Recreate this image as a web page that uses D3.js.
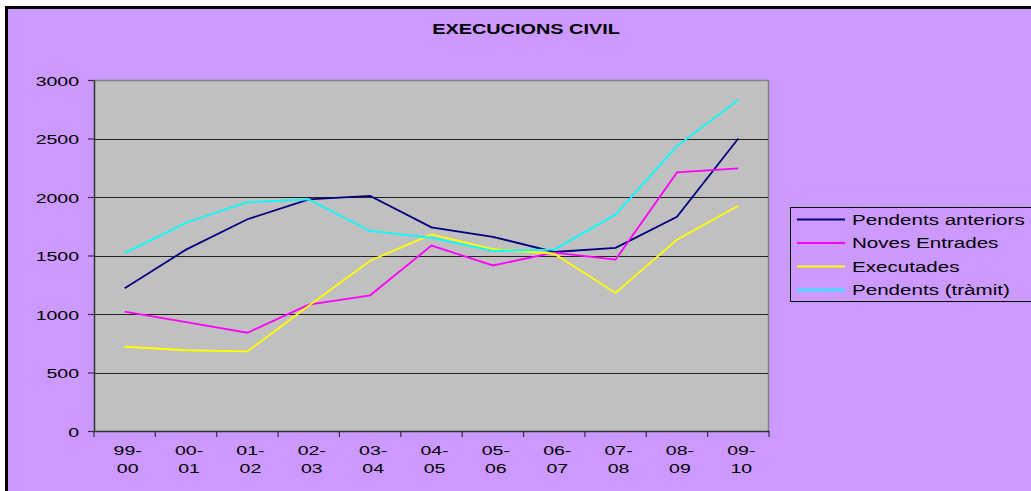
<!DOCTYPE html>
<html>
<head>
<meta charset="utf-8">
<script src="https://cdn.jsdelivr.net/npm/d3@7"></script>
<style>
html,body{margin:0;padding:0;background:#fff;}
svg{display:block;}
text{font-family:"Liberation Sans",Arial,sans-serif;fill:#000;}
</style>
</head>
<body>
<svg id="chart" width="1031" height="491"></svg>
<script>
const title = "EXECUCIONS CIVIL";
const categories = ["99-00","00-01","01-02","02-03","03-04","04-05","05-06","06-07","07-08","08-09","09-10"];
const seriesNames = ["Pendents anteriors","Noves Entrades","Executades","Pendents (tràmit)"];
const seriesColors = ["#000080","#FF00FF","#FFFF00","#00FFFF"];
const pendentsAnteriors = [1220,1550,1810,1980,2010,1740,1660,1530,1565,1830,2500];
const novesEntrades     = [1020,930,840,1080,1160,1585,1415,1525,1465,2210,2245];
const executades        = [720,690,680,1070,1455,1680,1555,1515,1180,1635,1925];
const pendentsTramit    = [1520,1780,1955,1980,1710,1650,1540,1550,1850,2435,2830];
const yTicks = [0,500,1000,1500,2000,2500,3000];

const seriesValues = [pendentsAnteriors, novesEntrades, executades, pendentsTramit];

const svg = d3.select("#chart");
const W = 1031, H = 491;
const plot = {left:94, right:769, top:80, bottom:431};
const SX = 1.5; // horizontal text stretch

// background + frame
svg.append("rect").attr("x",6.5).attr("y",7.5).attr("width",W+20).attr("height",H+20)
  .attr("fill","#CC99FF").attr("stroke","#000").attr("stroke-width",3);

// title
svg.append("text").attr("transform",`translate(526,34) scale(1.42,1)`)
  .attr("text-anchor","middle").attr("font-size",14).attr("font-weight","bold").text(title);

const x = d3.scaleBand().domain(categories).range([plot.left, plot.right]).padding(0);
const y = d3.scaleLinear().domain([0,3000]).range([plot.bottom, plot.top]);

// plot area
svg.append("rect").attr("x",plot.left).attr("y",plot.top)
  .attr("width",plot.right-plot.left).attr("height",plot.bottom-plot.top)
  .attr("fill","#C0C0C0");
// top/right border gray
svg.append("path").attr("d",`M${plot.left},${plot.top+0.5}H${plot.right-0.5}V${plot.bottom}`)
  .attr("fill","none").attr("stroke","#808080").attr("stroke-width",1.5);

// gridlines
svg.append("g").selectAll("line").data(yTicks.filter(d=>d>0 && d<3000)).join("line")
  .attr("x1",plot.left).attr("x2",plot.right-1)
  .attr("y1",d=>Math.round(y(d))+0.5).attr("y2",d=>Math.round(y(d))+0.5)
  .attr("stroke","#222").attr("stroke-width",1);

// y axis
const yAxis = svg.append("g").attr("transform",`translate(${plot.left},0)`)
  .call(d3.axisLeft(y).tickValues(yTicks).tickSize(6).tickSizeOuter(0).tickFormat(d3.format("d")));
yAxis.select(".domain").attr("stroke","#333").attr("stroke-width",1.5);
yAxis.selectAll(".tick line").attr("stroke","#333").attr("stroke-width",1.2);
yAxis.selectAll(".tick text").attr("x",0).attr("dy",null).attr("y",0)
  .attr("transform",`translate(-15,5) scale(${SX},1)`)
  .attr("font-size",13).attr("font-family","Liberation Sans, Arial, sans-serif").attr("fill","#000");

// x axis
const xAxis = svg.append("g").attr("transform",`translate(0,${plot.bottom})`)
  .call(d3.axisBottom(x).tickSize(0).tickSizeOuter(0).tickFormat(""));
xAxis.select(".domain").attr("stroke","#333").attr("stroke-width",1.5);
const boundaries = categories.map(c=>x(c)).concat([x.range()[1]]);
svg.append("g").selectAll("line").data(boundaries).join("line")
  .attr("x1",d=>d).attr("x2",d=>d).attr("y1",plot.bottom).attr("y2",plot.bottom+6)
  .attr("stroke","#333").attr("stroke-width",1.2);
const xl = svg.append("g").selectAll("g").data(categories).join("g")
  .attr("transform",d=>`translate(${x(d)+x.bandwidth()/2+3},0)`);
xl.append("text").attr("transform",`translate(0,455) scale(${SX},1)`).attr("text-anchor","middle")
  .attr("font-size",13).text(d=>d.split("-")[0]+"-");
xl.append("text").attr("transform",`translate(0,473) scale(${SX},1)`).attr("text-anchor","middle")
  .attr("font-size",13).text(d=>d.split("-")[1]);

// lines
const line = d3.line().x((d,i)=>x(categories[i])+x.bandwidth()/2).y(d=>y(d));
svg.append("g").selectAll("path").data(seriesValues).join("path")
  .attr("d",d=>line(d)).attr("fill","none")
  .attr("stroke",(d,i)=>seriesColors[i]).attr("stroke-width",1.8)
  .attr("stroke-linejoin","miter");

// legend
const lg = svg.append("g");
lg.append("rect").attr("x",790.5).attr("y",207.5).attr("width",260).attr("height",94)
  .attr("fill","#CC99FF").attr("stroke","#000").attr("stroke-width",1);
const rows = lg.selectAll("g").data(seriesNames).join("g")
  .attr("transform",(d,i)=>`translate(0,${219.5+i*23.5})`);
rows.append("line").attr("x1",797).attr("x2",845).attr("y1",0).attr("y2",0)
  .attr("stroke",(d,i)=>seriesColors[i]).attr("stroke-width",1.8);
rows.append("text").attr("transform",`translate(852,5) scale(1.47,1)`)
  .attr("font-size",14).text(d=>d);
</script>
</body>
</html>
